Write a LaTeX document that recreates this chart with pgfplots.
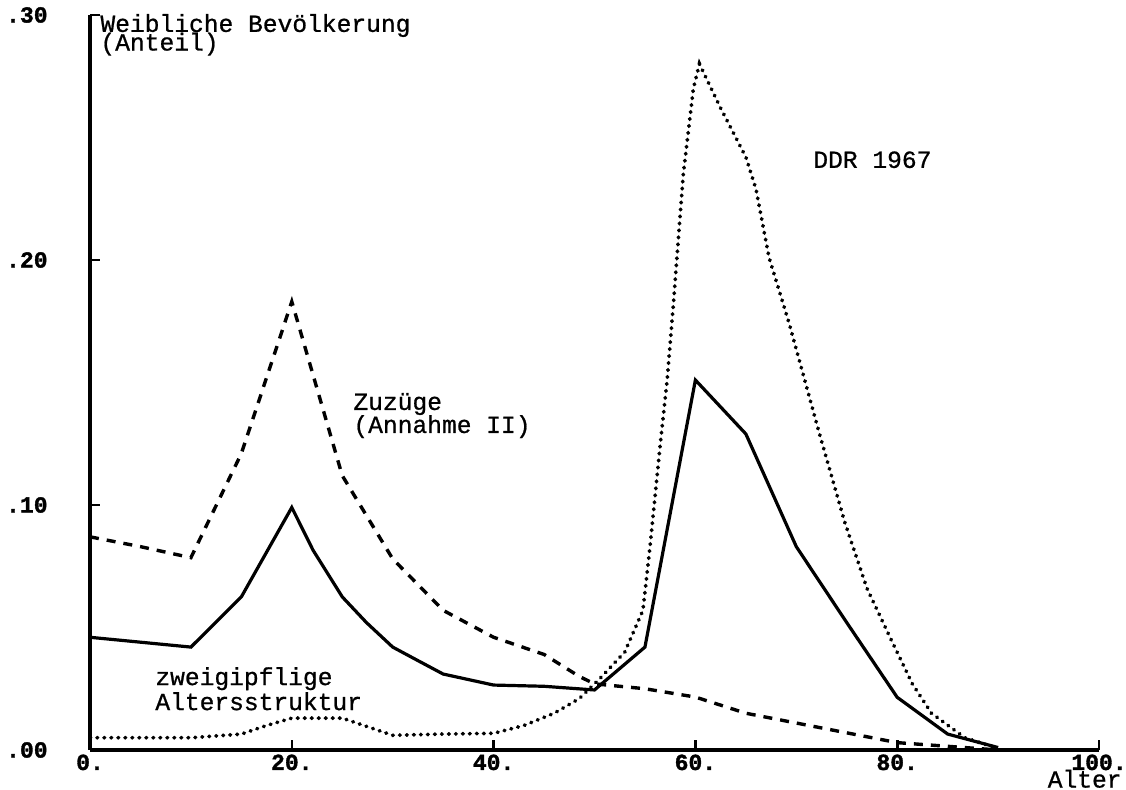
\documentclass[border=0pt]{standalone}
\usepackage{fontspec}
\setmainfont{Liberation Mono}
\newfontfamily\tickfont[FakeBold=1.5]{Liberation Mono Bold}
\newfontfamily\annfont[FakeBold=0.8]{Liberation Mono}
\usepackage{pgfplots}
\pgfplotsset{compat=1.18}
\newcommand{\ann}{\annfont\fontsize{12.3}{14}\selectfont}
\newcommand{\tl}[1]{\mbox{\tickfont\fontsize{11.5}{12}\selectfont #1}}
\begin{document}
\begin{tikzpicture}
\useasboundingbox (-45pt,-20pt) rectangle (518pt,375pt);
\begin{axis}[
  at={(0,0)}, anchor=south west,
  scale only axis, width=504.5pt, height=367.5pt,
  xmin=0, xmax=100, ymin=0, ymax=0.30,
  axis x line=bottom, axis y line=left,
  axis line style={-, line width=1.7pt},
  xtick={0,20,40,60,80,100},
  xticklabels={\tl{0.},\tl{20.},\tl{40.},\tl{60.},\tl{80.},\tl{100.}},
  ytick={0,0.1,0.2,0.3},
  yticklabels={\tl{.00},\tl{.10},\tl{.20},\tl{.30}},
  tick align=inside, major tick length=5pt,
  tick style={line width=1.3pt, black},
  ticklabel style={inner sep=0pt},
  xticklabel style={anchor=base, yshift=-10pt},
  yticklabel style={anchor=east, xshift=-21pt},
  clip=false,
]
% dashed: Zuzuege
\addplot[black, line width=1.7pt, dash pattern=on 4.5pt off 4pt] coordinates {
(0,0.087) (5,0.083) (10,0.0785) (15,0.121) (20,0.183) (25,0.112) (30,0.078)
(35,0.057) (40,0.046) (45,0.039) (48.5,0.030) (50,0.027) (55,0.025) (60,0.0216)
(65,0.015) (70,0.011) (75,0.007) (80,0.003) (85,0.0015) (90,0)
};
% solid
\addplot[black, line width=1.6pt] coordinates {
(0,0.046) (5,0.044) (10,0.042) (15,0.0625) (20,0.099) (22.1,0.0816) (25,0.0625)
(27.4,0.052) (30,0.042) (32.4,0.0367)
(35,0.031) (40,0.0265) (45,0.026) (50,0.0245) (55,0.042) (60,0.151) (65,0.129)
(70,0.083) (75,0.052) (80,0.0215) (85,0.0065) (90,0.001)
};
% dotted: DDR 1967
\addplot[black, line width=1.9pt, line cap=round, dash pattern=on 0.3pt off 3.2pt] coordinates {
(0,0.005) (5,0.005) (10,0.005) (15,0.0065) (17.5,0.010) (20,0.013) (25,0.013)
(27.5,0.0095) (30,0.006) (35,0.0065) (40,0.0068) (43,0.010) (46,0.015)
(48.5,0.021) (50.5,0.029) (53,0.040) (54.8,0.057) (55.5,0.083) (56.5,0.124)
(57.2,0.151) (57.8,0.181) (58.8,0.235) (59.8,0.270) (60.4,0.280) (62.5,0.262)
(65,0.242) (66,0.229) (67.3,0.201) (69.3,0.174) (72.3,0.129) (74.8,0.093)
(77,0.066) (79.4,0.045) (81.5,0.027) (83.4,0.015) (86.7,0.005) (89.7,0.001)
};
\node[anchor=base west, inner sep=0, font=\ann] at (axis cs:1.0,0.2931) {Weibliche Bevölkerung};
\node[anchor=base west, inner sep=0, font=\ann] at (axis cs:1.0,0.2855) {(Anteil)};
\node[anchor=base west, inner sep=0, font=\ann] at (axis cs:26.07,0.1388) {Zuzüge};
\node[anchor=base west, inner sep=0, font=\ann] at (axis cs:26.07,0.1294) {(Annahme II)};
\node[anchor=base west, inner sep=0, font=\ann] at (axis cs:6.44,0.0265) {zweigipflige};
\node[anchor=base west, inner sep=0, font=\ann] at (axis cs:6.44,0.0163) {Altersstruktur};
\node[anchor=base west, inner sep=0, font=\ann] at (axis cs:71.65,0.2376) {DDR 1967};
\node[anchor=base east, inner sep=0, font=\ann, xshift=11.5pt, yshift=-18.8pt] at (axis cs:100,0) {Alter};
\end{axis}
\end{tikzpicture}
\end{document}
